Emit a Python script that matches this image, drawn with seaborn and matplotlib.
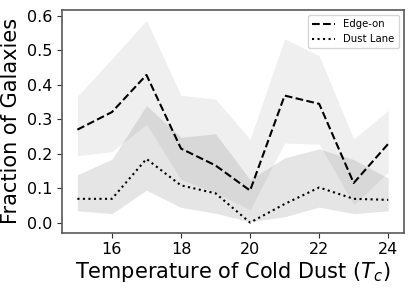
import numpy as np
import pandas as pd
import matplotlib
matplotlib.use("Agg")
import matplotlib.pyplot as plt
import seaborn as sns

temps = [15, 16, 17, 18, 19, 20, 21, 22, 23, 24]
edge_on = [0.270, 0.321, 0.429, 0.215, 0.166, 0.093, 0.369, 0.345, 0.115, 0.229]
edge_lo = [0.194, 0.206, 0.285, 0.125, 0.087, 0.037, 0.231, 0.228, 0.052, 0.146]
edge_hi = [0.367, 0.476, 0.588, 0.370, 0.359, 0.242, 0.534, 0.485, 0.243, 0.326]
dust = [0.069, 0.069, 0.185, 0.108, 0.085, 0.000, 0.054, 0.102, 0.069, 0.066]
dust_lo = [0.034, 0.026, 0.094, 0.044, 0.027, 0.002, 0.017, 0.045, 0.026, 0.034]
dust_hi = [0.139, 0.184, 0.340, 0.248, 0.258, 0.125, 0.188, 0.214, 0.183, 0.129]

sns.set_style("ticks")
plt.rcParams["font.family"] = ["DejaVu Sans"]
plt.rcParams["text.color"] = "black"
plt.rcParams["axes.labelcolor"] = "black"
plt.rcParams["xtick.color"] = "black"
plt.rcParams["ytick.color"] = "black"

fig = plt.figure(figsize=(4.15, 2.88), dpi=100)
ax = fig.add_axes([0.149, 0.192, 0.824, 0.773])

df = pd.DataFrame({"T": temps, "edge": edge_on, "dust": dust})

ax.fill_between(temps, edge_lo, edge_hi, color="0.5", alpha=0.12, lw=0)
ax.fill_between(temps, dust_lo, dust_hi, color="0.5", alpha=0.2, lw=0)
sns.lineplot(data=df, x="T", y="edge", ax=ax, color="k", ls="--", lw=1.5, label="Edge-on")
sns.lineplot(data=df, x="T", y="dust", ax=ax, color="k", ls=":", lw=1.5, label="Dust Lane")

ax.set_xticks([16, 18, 20, 22, 24])
ax.set_yticks([0.0, 0.1, 0.2, 0.3, 0.4, 0.5, 0.6])
ax.tick_params(labelsize=11.5, length=3.5, color="0.2", labelcolor="black")
ax.set_xlabel("Temperature of Cold Dust ($T_c$)", fontsize=15, labelpad=2, color="black")
ax.set_ylabel("Fraction of Galaxies", fontsize=15, labelpad=4, color="black")
for s in ax.spines.values():
    s.set_color("0.35")
    s.set_linewidth(1.2)
    s.set_visible(True)
leg = ax.legend(loc="upper right", fontsize=7.3, frameon=True, handlelength=2.3)
leg.get_frame().set_edgecolor("0.8")
for t in leg.get_texts():
    t.set_color("black")

fig.savefig("out.png", dpi=100)
